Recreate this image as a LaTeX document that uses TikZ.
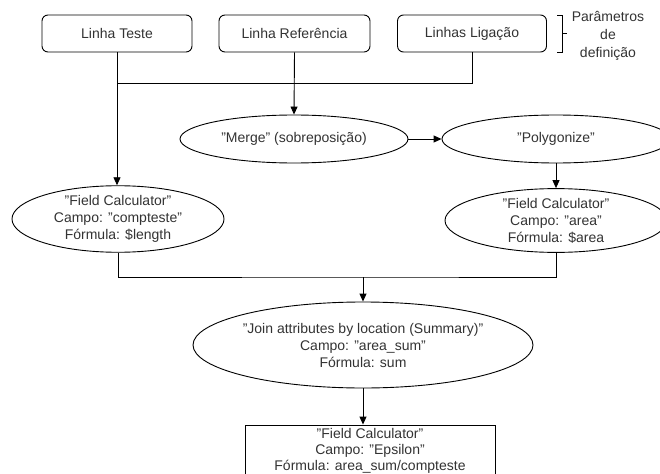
\documentclass[tikz,border=0pt]{standalone}
\usepackage{fontspec}
\setmainfont{Liberation Sans}
\usetikzlibrary{shapes.geometric,arrows.meta}
\definecolor{txt}{HTML}{333333}
\tikzset{
  base/.style={draw=black, line width=0.9pt, text=txt, font=\fontsize{14}{17}\selectfont, align=center, inner sep=0pt},
  rbox/.style={base, rounded corners=6pt},
  sbox/.style={base, font=\fontsize{14}{16}\selectfont},
  ell/.style={base, ellipse},
  conn/.style={draw=black, line width=0.9pt},
  arr/.style={conn, -{Triangle[length=8pt,width=7pt]}}
}
\begin{document}
\begin{tikzpicture}[x=1pt,y=-1pt]
\useasboundingbox[fill=white] (0,0) rectangle (660,473);
\node[rbox, minimum width=150, minimum height=37] (teste) at (117,33.5) {Linha Teste};
\node[rbox, minimum width=151, minimum height=37] (ref) at (294.5,33.5) {Linha Referência};
\node[rbox, minimum width=149, minimum height=37] (lig) at (472,33.5) {Linhas Ligação};
\node[text=txt, font=\fontsize{14}{18}\selectfont, align=center, inner sep=0pt] (param) at (608,36) {Parâmetros\\de\\definição};
\coordinate (bt) at (557,15);
\coordinate (bb) at (557,52);
\coordinate (bm) at (567,33.5);
\draw[conn] (bt) -- ++(5,0) -- ++(0,37) -- (bb);
\draw[conn] (562,33.5) -- (bm);

\node[ell, minimum width=228, minimum height=48] (merge) at (294,139) {"Merge" (sobreposição)};
\node[ell, minimum width=228, minimum height=48] (poly) at (556,139) {"Polygonize"};
\node[ell, minimum width=212, minimum height=66] (fcl) at (118,219) {"Field Calculator"\\Campo: "compteste"\\Fórmula: \$length};
\node[ell, minimum width=222, minimum height=63] (fcr) at (556,220.5) {"Field Calculator"\\Campo: "area"\\Fórmula: \$area};
\node[ell, minimum width=312, minimum height=86] (join) at (363,345) {"Join attributes by location (Summary)"\\Campo: "area\_sum"\\Fórmula: sum};
\node[sbox, minimum width=250, minimum height=52] (box) at (370,451) {"Field Calculator"\\Campo: "Epsilon"\\Fórmula: area\_sum/compteste};

\coordinate (j1) at (117,83);
\coordinate (j2) at (363,277);
\draw[arr] (teste.south) -- (teste.south |- fcl.north);
\draw[conn] (lig.south) |- (j1);
\draw[arr] (ref.south) -- (merge.north);
\draw[arr] (merge.east) -- (poly.west);
\draw[arr] (poly.south) -- (fcr.north);
\draw[conn] (fcl.south) |- (j2) -| (fcr.south);
\draw[arr] (j2) -- (join.north);
\draw[arr] (join.south) -- (join.south |- box.north);
\end{tikzpicture}
\end{document}
